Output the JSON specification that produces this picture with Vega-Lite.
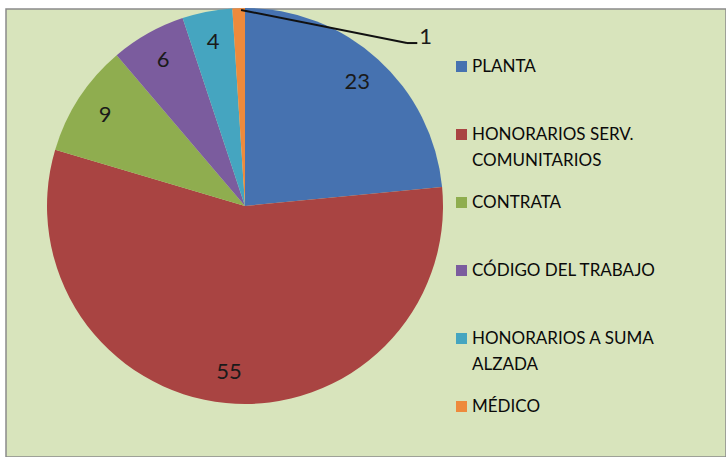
{
  "$schema": "https://vega.github.io/schema/vega-lite/v6.json",
  "width": 720,
  "height": 448,
  "padding": {"top": 9, "left": 6, "right": 0, "bottom": 0},
  "autosize": {"type": "none"},
  "background": "white",
  "config": {
    "view": {"fill": "#d8e4bc", "stroke": "#8a8a8a", "strokeWidth": 1.5},
    "font": "Lato"
  },
  "layer": [
    {
      "data": {
        "values": [
          {"cat": "PLANTA", "value": 23, "ord": 1},
          {"cat": "HONORARIOS SERV. COMUNITARIOS", "value": 55, "ord": 2},
          {"cat": "CONTRATA", "value": 9, "ord": 3},
          {"cat": "CÓDIGO DEL TRABAJO", "value": 6, "ord": 4},
          {"cat": "HONORARIOS A SUMA ALZADA", "value": 4, "ord": 5},
          {"cat": "MÉDICO", "value": 1, "ord": 6}
        ]
      },
      "layer": [
        {
          "mark": {"type": "arc", "outerRadius": 198, "strokeWidth": 0},
          "encoding": {
            "x": {"datum": 0, "type": "quantitative", "scale": {"domain": [-1.207, 2.429], "nice": false, "zero": false}, "axis": null},
            "y": {"datum": 0, "type": "quantitative", "scale": {"domain": [-1.268, 0.995], "nice": false, "zero": false}, "axis": null},
            "theta": {"field": "value", "type": "quantitative", "stack": true},
            "order": {"field": "ord", "type": "quantitative"},
            "color": {
              "field": "cat",
              "type": "nominal",
              "sort": ["PLANTA", "HONORARIOS SERV. COMUNITARIOS", "CONTRATA", "CÓDIGO DEL TRABAJO", "HONORARIOS A SUMA ALZADA", "MÉDICO"],
              "scale": {
                "domain": ["PLANTA", "HONORARIOS SERV. COMUNITARIOS", "CONTRATA", "CÓDIGO DEL TRABAJO", "HONORARIOS A SUMA ALZADA", "MÉDICO"],
                "range": ["#4672b0", "#a94442", "#8fad4f", "#7b5c9e", "#45a5c0", "#ee8a3c"]
              },
              "legend": {
                "title": null,
                "orient": "none",
                "legendX": 447,
                "legendY": 49,
                "gridAlign": "all",
                "symbolType": "square",
                "symbolSize": 121,
                "symbolStrokeWidth": 0,
                "labelFont": "Lato",
                "labelFontSize": 17,
                "labelColor": "#0a0a0a",
                "labelLimit": 300,
                "rowPadding": 24,
                "labelExpr": "datum.label == 'HONORARIOS SERV. COMUNITARIOS' ? ['HONORARIOS SERV.', 'COMUNITARIOS'] : datum.label == 'HONORARIOS A SUMA ALZADA' ? ['HONORARIOS A SUMA', 'ALZADA'] : datum.label",
                "labelBaseline": "middle",
                "labelOffset": 2,
                "encode": {"labels": {"update": {"lineHeight": {"value": 26}}}}
              }
            }
          }
        },
        {
          "mark": {"type": "text", "radius": 167, "font": "Lato", "fontSize": 22, "color": "#1a1a1a"},
          "encoding": {
            "x": {"datum": 0, "type": "quantitative"},
            "y": {"datum": 0, "type": "quantitative"},
            "theta": {"field": "value", "type": "quantitative", "stack": true},
            "order": {"field": "ord", "type": "quantitative"},
            "text": {"condition": {"test": "datum.value > 1", "field": "value", "type": "quantitative"}, "value": ""}
          }
        }
      ]
    },
    {
      "data": {"values": [{}]},
      "mark": {"type": "rule", "color": "#111", "strokeWidth": 2},
      "encoding": {
        "x": {"datum": -0.02, "type": "quantitative"},
        "y": {"datum": 0.99, "type": "quantitative"},
        "x2": {"datum": 0.818},
        "y2": {"datum": 0.823}
      }
    },
    {
      "data": {"values": [{}]},
      "mark": {"type": "rule", "color": "#111", "strokeWidth": 2},
      "encoding": {
        "x": {"datum": 0.818, "type": "quantitative"},
        "y": {"datum": 0.823, "type": "quantitative"},
        "x2": {"datum": 0.87},
        "y2": {"datum": 0.823}
      }
    },
    {
      "data": {"values": [{}]},
      "mark": {"type": "text", "font": "Lato", "fontSize": 22, "color": "#1a1a1a", "align": "left", "baseline": "middle"},
      "encoding": {
        "x": {"datum": 0.88, "type": "quantitative"},
        "y": {"datum": 0.854, "type": "quantitative"},
        "text": {"value": "1"}
      }
    }
  ]
}
